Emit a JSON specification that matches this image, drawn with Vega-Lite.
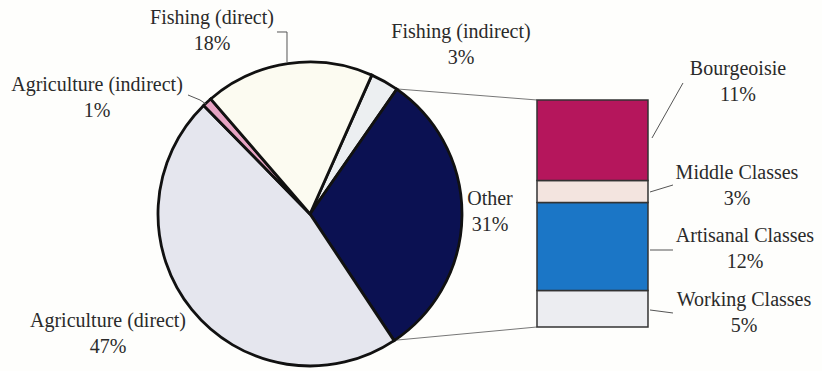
{
  "$schema": "https://vega.github.io/schema/vega-lite/v6.json",
  "width": 822,
  "height": 371,
  "autosize": {"type": "none"},
  "padding": 0,
  "background": "#fefefc",
  "config": {
    "view": {"stroke": null},
    "axis": {"disable": true},
    "text": {"font": "Liberation Serif", "fontSize": 20, "lineHeight": 26, "fill": "#2a2a2a", "align": "center", "baseline": "middle", "lineBreak": "\n"},
    "rule": {"stroke": "#555555", "strokeWidth": 1}
  },
  "datasets": {
    "pie": [
      {"category": "Fishing (indirect)", "value": 3, "order": 1, "label": "Fishing (indirect)\n3%"},
      {"category": "Other", "value": 31, "order": 2, "label": "Other\n31%"},
      {"category": "Agriculture (direct)", "value": 47, "order": 3, "label": "Agriculture (direct)\n47%"},
      {"category": "Agriculture (indirect)", "value": 1, "order": 4, "label": "Agriculture (indirect)\n1%"},
      {"category": "Fishing (direct)", "value": 18, "order": 5, "label": "Fishing (direct)\n18%"}
    ],
    "other": [
      {"category": "Working Classes", "value": 5, "label": "Working Classes\n5%"},
      {"category": "Artisanal Classes", "value": 12, "label": "Artisanal Classes\n12%"},
      {"category": "Middle Classes", "value": 3, "label": "Middle Classes\n3%"},
      {"category": "Bourgeoisie", "value": 11, "label": "Bourgeoisie\n11%"}
    ]
  },
  "layer": [
    {
      "data": {"name": "pie"},
      "transform": [{"filter": "datum.category === 'Other'"}],
      "layer": [
        {"mark": {"type": "rule", "stroke": "#777777"}, "encoding": {"x": {"datum": 54.120, "type": "quantitative", "scale": {"domain": [0, 112.256], "nice": false, "zero": false}}, "y": {"datum": 32.516, "type": "quantitative", "scale": {"domain": [-6.009, 44.656], "nice": false, "zero": false}}, "x2": {"datum": 73.335}, "y2": {"datum": 31.0}}},
        {"mark": {"type": "rule", "stroke": "#777777"}, "encoding": {"x": {"datum": 53.888}, "y": {"datum": -1.816}, "x2": {"datum": 73.335}, "y2": {"datum": 0}}},
        {"mark": {"type": "text"}, "encoding": {"x": {"datum": 66.916}, "y": {"datum": 17.480}, "text": {"field": "label"}}}
      ]
    },
    {
      "data": {"name": "pie"},
      "mark": {"type": "arc", "outerRadius": 152, "stroke": "#111111", "strokeWidth": 2.8},
      "encoding": {
        "x": {"datum": 42.335, "type": "quantitative"},
        "y": {"datum": 15.432, "type": "quantitative"},
        "theta": {"field": "value", "type": "quantitative", "stack": true, "scale": {"range": [0.419, 6.702]}},
        "order": {"field": "order", "type": "quantitative"},
        "color": {
          "field": "category", "type": "nominal", "legend": null,
          "scale": {
            "domain": ["Fishing (indirect)", "Other", "Agriculture (direct)", "Agriculture (indirect)", "Fishing (direct)", "Bourgeoisie", "Middle Classes", "Artisanal Classes", "Working Classes"],
            "range": ["#eceff1", "#0b1152", "#e5e6ee", "#e6a3c3", "#fcfbf1", "#b5165c", "#f3e4df", "#1b76c6", "#ecedf1"]
          }
        }
      }
    },
    {
      "data": {"name": "other"},
      "transform": [{"stack": "value", "groupby": [], "as": ["v0", "v1"]}],
      "mark": {"type": "rect", "stroke": "#333333", "strokeWidth": 1.5},
      "encoding": {
        "x": {"datum": 73.335, "type": "quantitative"},
        "x2": {"datum": 88.493},
        "y": {"field": "v0", "type": "quantitative"},
        "y2": {"field": "v1"},
        "color": {"field": "category", "type": "nominal", "legend": null}
      }
    },
    {
      "data": {"name": "pie"},
      "transform": [{"filter": "datum.category === 'Fishing (direct)'"}],
      "layer": [
        {"mark": {"type": "text"}, "encoding": {"x": {"datum": 28.952}, "y": {"datum": 42.198}, "text": {"field": "label"}}},
        {"mark": {"type": "rule"}, "encoding": {"x": {"datum": 37.828}, "y": {"datum": 40.286}, "x2": {"datum": 39.194}, "y2": {"datum": 40.286}}},
        {"mark": {"type": "rule"}, "encoding": {"x": {"datum": 39.194}, "y": {"datum": 40.286}, "x2": {"datum": 39.194}, "y2": {"datum": 36.190}}}
      ]
    },
    {
      "data": {"name": "pie"},
      "transform": [{"filter": "datum.category === 'Fishing (indirect)'"}],
      "mark": {"type": "text"},
      "encoding": {"x": {"datum": 62.956}, "y": {"datum": 40.286}, "text": {"field": "label"}}
    },
    {
      "data": {"name": "pie"},
      "transform": [{"filter": "datum.category === 'Agriculture (indirect)'"}],
      "layer": [
        {"mark": {"type": "text"}, "encoding": {"x": {"datum": 13.247}, "y": {"datum": 33.049}, "text": {"field": "label"}}},
        {"mark": {"type": "rule"}, "encoding": {"x": {"datum": 25.674}, "y": {"datum": 31.683}, "x2": {"datum": 27.313}, "y2": {"datum": 31.0}}},
        {"mark": {"type": "rule"}, "encoding": {"x": {"datum": 27.313}, "y": {"datum": 31.0}, "x2": {"datum": 28.132}, "y2": {"datum": 30.454}}}
      ]
    },
    {
      "data": {"name": "pie"},
      "transform": [{"filter": "datum.category === 'Agriculture (direct)'"}],
      "mark": {"type": "text"},
      "encoding": {"x": {"datum": 14.749}, "y": {"datum": 0.819}, "text": {"field": "label"}}
    },
    {
      "data": {"name": "other"},
      "transform": [{"filter": "datum.category === 'Bourgeoisie'"}],
      "layer": [
        {"mark": {"type": "text"}, "encoding": {"x": {"datum": 100.784}, "y": {"datum": 35.234}, "text": {"field": "label"}}},
        {"mark": {"type": "rule"}, "encoding": {"x": {"datum": 89.040}, "y": {"datum": 25.811}, "x2": {"datum": 93.273}, "y2": {"datum": 33.322}}}
      ]
    },
    {
      "data": {"name": "other"},
      "transform": [{"filter": "datum.category === 'Middle Classes'"}],
      "layer": [
        {"mark": {"type": "text"}, "encoding": {"x": {"datum": 100.648}, "y": {"datum": 21.031}, "text": {"field": "label"}}},
        {"mark": {"type": "rule"}, "encoding": {"x": {"datum": 88.767}, "y": {"datum": 18.436}, "x2": {"datum": 91.907}, "y2": {"datum": 19.392}}}
      ]
    },
    {
      "data": {"name": "other"},
      "transform": [{"filter": "datum.category === 'Artisanal Classes'"}],
      "layer": [
        {"mark": {"type": "text"}, "encoding": {"x": {"datum": 101.740}, "y": {"datum": 12.427}, "text": {"field": "label"}}},
        {"mark": {"type": "rule"}, "encoding": {"x": {"datum": 88.767}, "y": {"datum": 10.515}, "x2": {"datum": 91.907}, "y2": {"datum": 10.515}}}
      ]
    },
    {
      "data": {"name": "other"},
      "transform": [{"filter": "datum.category === 'Working Classes'"}],
      "layer": [
        {"mark": {"type": "text"}, "encoding": {"x": {"datum": 101.604}, "y": {"datum": 3.687}, "text": {"field": "label"}}},
        {"mark": {"type": "rule"}, "encoding": {"x": {"datum": 88.767}, "y": {"datum": 2.322}, "x2": {"datum": 91.907}, "y2": {"datum": 1.912}}}
      ]
    }
  ]
}
